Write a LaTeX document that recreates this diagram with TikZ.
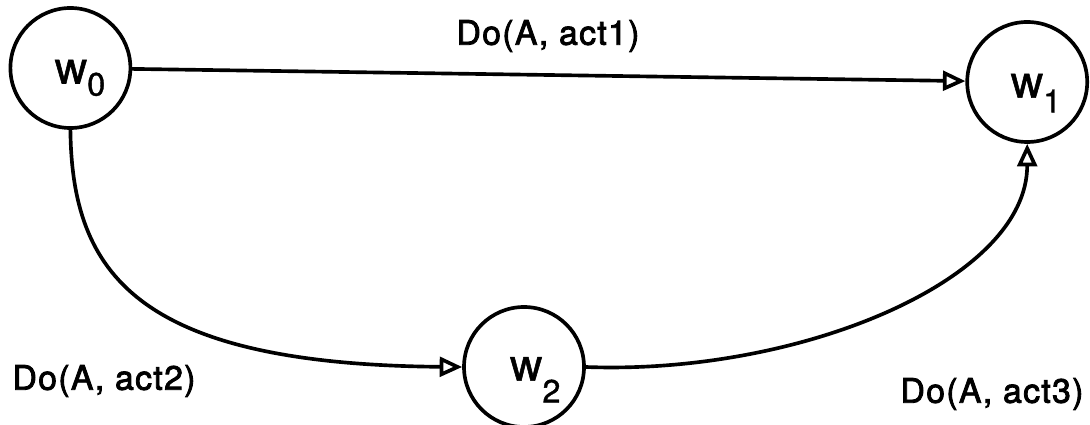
\documentclass[tikz,border=0pt]{standalone}
\usepackage{fontspec}
\setmainfont[FakeBold=1.2]{TeX Gyre Heros}
\newfontfamily\lblfont[LetterSpace=4,FakeBold=2.5]{TeX Gyre Heros}
\usepackage{tikz}
\usetikzlibrary{arrows.meta}

\tikzset{
  world/.style={circle,draw,line width=1.3pt,minimum size=1.5cm,inner sep=0pt},
  wname/.style={font=\fontsize{16}{16}\selectfont,inner sep=0pt},
  act/.style={font=\lblfont\fontsize{12}{14}\selectfont},
  trans/.style={line width=1.3pt,-{Triangle[open,length=8pt,width=7pt]}}
}
\newcommand{\wsub}[2]{w\raisebox{-#2}{\fontsize{11.5}{11.5}\selectfont #1}}

\begin{document}
\begin{tikzpicture}
\useasboundingbox (0,0) rectangle (13.625,5.3125);
% worlds
\node[world,label={[wname,xshift=0.12cm,yshift=-0.125cm]center:\wsub{0}{4.3pt}}] (w0) at (0.88,4.4625) {};
\node[world,label={[wname,xshift=0.11cm,yshift=-0.14cm]center:\wsub{1}{5.3pt}}] (w1) at (12.84,4.2875) {};
\node[world,label={[wname,xshift=0.14cm,yshift=-0.16cm]center:\wsub{2}{7.8pt}}] (w2) at (6.55,0.725) {};
% actions
\node[act] (act1) at (6.85,4.8625) {Do(A, act1)};
\node[act] (act2) at (1.3,0.55) {Do(A, act2)};
\node[act] (act3) at (12.4,0.3875) {Do(A, act3)};
% transitions
\draw[trans] (w0) -- (w1);
\draw[trans] (w0.south) .. controls (0.9,1.9) and (1.7,0.76) .. (w2.west);
\draw[trans] (w2.east) .. controls (10.0,0.625) and (12.84,1.8125) .. (w1.south);
\end{tikzpicture}
\end{document}
